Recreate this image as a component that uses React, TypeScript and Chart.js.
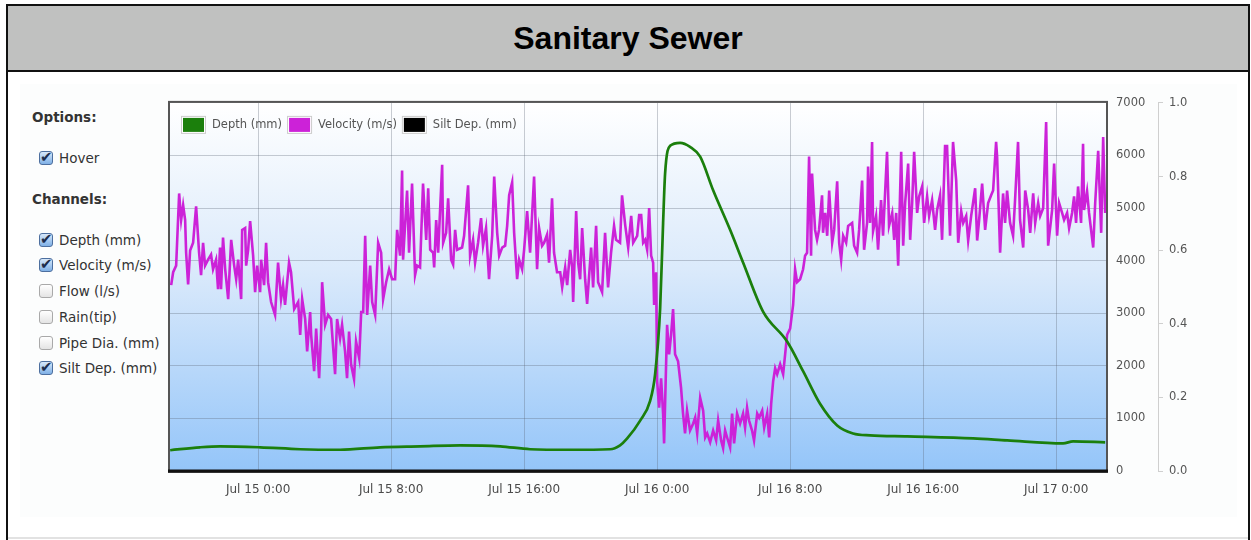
import React, { useEffect, useRef } from "react";
import { Chart, registerables } from "chart.js";

Chart.register(...registerables);

const TITLE = "Sanitary Sewer";
const OPTIONS_HEADING = "Options:";
const CHANNELS_HEADING = "Channels:";
const OPTION_LABELS = ["Hover"];
const OPTION_CHECKED = [true];
const CHANNEL_LABELS = ["Depth (mm)", "Velocity (m/s)", "Flow (l/s)", "Rain(tip)", "Pipe Dia. (mm)", "Silt Dep. (mm)"];
const CHANNEL_CHECKED = [true, true, false, false, false, true];

const SERIES_NAMES = ["Depth (mm)", "Velocity (m/s)", "Silt Dep. (mm)"];
const SERIES_COLORS = ["#1b7f0c", "#cc22d8", "#000000"];

// x values are hours relative to Jul 15 0:00
const X_MIN = -5.3;
const X_MAX = 51.0;
const X_TICK_HOURS = [0, 8, 16, 24, 32, 40, 48];
const X_TICK_LABELS = ["Jul 15 0:00", "Jul 15 8:00", "Jul 15 16:00", "Jul 16 0:00", "Jul 16 8:00", "Jul 16 16:00", "Jul 17 0:00"];

const DEPTH_TICKS_MAX = 7000;
const VEL_TICKS_MAX = 1.0;

const DEPTH_HOURS = [-5.29, -3.49, -2.29, 0.12, 2.53, 4.93, 7.34, 9.74, 12.15, 14.56, 16.36, 18.77, 21.17, 21.77, 22.2, 22.98, 23.58, 23.88, 24.18, 24.36, 24.48, 24.78, 25.38, 25.98, 26.59, 27.37, 28.39, 29.17, 30.38, 31.82, 32.78, 33.8, 34.83, 35.79, 36.81, 39.04, 43.01, 45.05, 48.42, 49.02, 50.95];
const DEPTH_MM = [395, 451, 470, 451, 414, 404, 451, 470, 489, 470, 414, 404, 414, 489, 620, 959, 1335, 1842, 3083, 4718, 5658, 6184, 6241, 6165, 5977, 5338, 4586, 3966, 3026, 2462, 1898, 1278, 865, 714, 677, 658, 620, 583, 526, 564, 545];

const VEL_HOURS = [
  -5.23, -5.11, -4.93, -4.75, -4.63, -4.51, -4.39, -4.33, -4.21, -4.09, -3.91, -3.73, -3.55, -3.43, -3.31, -3.19, -3.01, -2.83, -2.71, -2.53,
  -2.41, -2.29, -2.23, -2.11, -1.98, -1.8, -1.62, -1.44, -1.32, -1.2, -1.02, -0.96, -0.78, -0.72, -0.6, -0.48, -0.3, -0.18, -0.06, 0.12,
  0.18, 0.36, 0.48, 0.6, 0.78, 1.02, 1.2, 1.38, 1.5, 1.62, 1.86, 1.98, 2.17, 2.41, 2.53, 2.65, 2.83, 2.95, 3.13, 3.19,
  3.37, 3.49, 3.67, 3.79, 3.85, 4.03, 4.21, 4.39, 4.63, 4.75, 4.93, 5.05, 5.23, 5.35, 5.47, 5.59, 5.77, 5.89, 6.08, 6.2,
  6.32, 6.44, 6.56, 6.74, 6.86, 7.04, 7.22, 7.4, 7.52, 7.7, 7.88, 8.06, 8.24, 8.36, 8.54, 8.66, 8.72, 8.96, 9.08, 9.26,
  9.44, 9.56, 9.74, 9.92, 10.11, 10.23, 10.35, 10.53, 10.59, 10.71, 10.83, 11.07, 11.13, 11.31, 11.43, 11.61, 11.73, 11.85, 11.97, 12.27,
  12.39, 12.63, 12.75, 12.93, 13.05, 13.23, 13.41, 13.53, 13.71, 13.89, 14.08, 14.2, 14.38, 14.5, 14.68, 14.86, 14.98, 15.1, 15.28, 15.4,
  15.58, 15.7, 15.88, 16.0, 16.18, 16.36, 16.6, 16.78, 16.9, 17.08, 17.2, 17.38, 17.5, 17.68, 17.8, 17.98, 18.17, 18.29, 18.47, 18.59,
  18.77, 18.89, 18.95, 19.13, 19.25, 19.37, 19.49, 19.67, 19.79, 20.03, 20.15, 20.33, 20.45, 20.69, 20.87, 21.05, 21.23, 21.41, 21.53, 21.77,
  21.89, 22.08, 22.26, 22.44, 22.56, 22.8, 22.92, 23.04, 23.16, 23.28, 23.4, 23.52, 23.64, 23.76, 23.82, 23.94, 24.0, 24.12, 24.24, 24.36,
  24.42, 24.6, 24.72, 24.84, 24.96, 25.08, 25.26, 25.44, 25.56, 25.68, 25.8, 25.98, 26.17, 26.29, 26.41, 26.59, 26.77, 26.89, 27.01, 27.19,
  27.37, 27.55, 27.67, 27.85, 27.97, 28.09, 28.21, 28.39, 28.51, 28.63, 28.81, 28.99, 29.17, 29.29, 29.41, 29.53, 29.71, 29.83, 30.02, 30.14,
  30.32, 30.44, 30.62, 30.74, 30.86, 30.98, 31.1, 31.22, 31.4, 31.58, 31.7, 31.82, 32.0, 32.18, 32.3, 32.42, 32.6, 32.78, 32.9, 33.02,
  33.14, 33.26, 33.32, 33.5, 33.62, 33.74, 33.92, 33.98, 34.11, 34.23, 34.35, 34.53, 34.65, 34.83, 34.95, 35.07, 35.19, 35.37, 35.49, 35.73,
  35.85, 36.03, 36.15, 36.33, 36.45, 36.63, 36.69, 36.81, 36.93, 36.99, 37.17, 37.29, 37.47, 37.59, 37.83, 37.95, 38.14, 38.26, 38.38, 38.5,
  38.68, 38.8, 38.92, 39.1, 39.22, 39.34, 39.46, 39.64, 39.76, 39.94, 40.06, 40.24, 40.36, 40.54, 40.72, 40.84, 41.02, 41.14, 41.32, 41.44,
  41.62, 41.8, 41.99, 42.11, 42.29, 42.41, 42.59, 42.71, 42.89, 43.13, 43.25, 43.37, 43.55, 43.73, 43.91, 44.09, 44.21, 44.39, 44.45, 44.63,
  44.81, 44.93, 45.05, 45.23, 45.41, 45.53, 45.71, 45.83, 46.02, 46.14, 46.32, 46.44, 46.62, 46.74, 46.92, 47.04, 47.22, 47.4, 47.52, 47.76,
  47.88, 48.06, 48.18, 48.36, 48.48, 48.66, 48.78, 48.96, 49.08, 49.2, 49.32, 49.5, 49.62, 49.68, 49.86, 49.98, 50.23, 50.35, 50.53, 50.71,
  50.83, 50.95
];
const VEL_MS = [
  0.505, 0.54, 0.558, 0.754, 0.682, 0.722, 0.682, 0.593, 0.507, 0.599, 0.62, 0.719, 0.593, 0.532, 0.62, 0.558, 0.574, 0.588, 0.548, 0.574,
  0.494, 0.607, 0.494, 0.634, 0.548, 0.467, 0.628, 0.558, 0.521, 0.574, 0.467, 0.655, 0.66, 0.558, 0.601, 0.679, 0.585, 0.486, 0.558, 0.486,
  0.574, 0.505, 0.62, 0.513, 0.459, 0.424, 0.566, 0.467, 0.505, 0.451, 0.566, 0.54, 0.44, 0.459, 0.37, 0.467, 0.413, 0.325, 0.432, 0.37,
  0.271, 0.387, 0.252, 0.379, 0.513, 0.397, 0.424, 0.413, 0.263, 0.413, 0.36, 0.397, 0.325, 0.252, 0.379, 0.29, 0.25, 0.352, 0.306, 0.432,
  0.432, 0.639, 0.424, 0.558, 0.459, 0.424, 0.62, 0.593, 0.467, 0.513, 0.548, 0.521, 0.521, 0.655, 0.585, 0.816, 0.574, 0.762, 0.593, 0.781,
  0.532, 0.558, 0.553, 0.781, 0.628, 0.768, 0.601, 0.593, 0.553, 0.682, 0.593, 0.832, 0.62, 0.647, 0.741, 0.574, 0.561, 0.655, 0.601, 0.607,
  0.639, 0.776, 0.585, 0.628, 0.566, 0.62, 0.687, 0.612, 0.66, 0.521, 0.639, 0.8, 0.647, 0.585, 0.607, 0.612, 0.666, 0.749, 0.784, 0.647,
  0.521, 0.574, 0.548, 0.601, 0.706, 0.593, 0.8, 0.548, 0.66, 0.612, 0.62, 0.642, 0.566, 0.741, 0.593, 0.54, 0.54, 0.499, 0.553, 0.505,
  0.601, 0.553, 0.459, 0.706, 0.566, 0.521, 0.66, 0.521, 0.454, 0.607, 0.499, 0.666, 0.513, 0.486, 0.647, 0.499, 0.593, 0.666, 0.628, 0.62,
  0.749, 0.668, 0.607, 0.693, 0.62, 0.639, 0.695, 0.695, 0.62, 0.628, 0.601, 0.714, 0.585, 0.566, 0.451, 0.54, 0.244, 0.172, 0.252, 0.156,
  0.075, 0.397, 0.317, 0.37, 0.44, 0.317, 0.298, 0.226, 0.156, 0.102, 0.164, 0.11, 0.129, 0.145, 0.102, 0.199, 0.164, 0.091, 0.102, 0.078,
  0.11, 0.083, 0.137, 0.083, 0.062, 0.11, 0.091, 0.064, 0.156, 0.075, 0.156, 0.129, 0.156, 0.118, 0.172, 0.137, 0.11, 0.083, 0.156, 0.145,
  0.164, 0.118, 0.156, 0.091, 0.183, 0.244, 0.279, 0.263, 0.29, 0.263, 0.317, 0.37, 0.387, 0.451, 0.548, 0.513, 0.521, 0.548, 0.585, 0.593,
  0.854, 0.585, 0.808, 0.655, 0.628, 0.655, 0.749, 0.647, 0.701, 0.639, 0.762, 0.62, 0.655, 0.787, 0.62, 0.574, 0.639, 0.62, 0.666, 0.674,
  0.612, 0.593, 0.655, 0.789, 0.601, 0.674, 0.827, 0.674, 0.894, 0.652, 0.693, 0.601, 0.736, 0.639, 0.867, 0.666, 0.701, 0.628, 0.701, 0.558,
  0.867, 0.612, 0.728, 0.835, 0.628, 0.728, 0.867, 0.701, 0.746, 0.773, 0.674, 0.746, 0.693, 0.736, 0.655, 0.709, 0.749, 0.628, 0.883, 0.883,
  0.639, 0.894, 0.789, 0.62, 0.706, 0.674, 0.693, 0.626, 0.693, 0.768, 0.626, 0.682, 0.781, 0.655, 0.728, 0.749, 0.762, 0.894, 0.854, 0.593,
  0.754, 0.674, 0.762, 0.674, 0.639, 0.736, 0.894, 0.682, 0.607, 0.762, 0.709, 0.647, 0.754, 0.674, 0.728, 0.693, 0.714, 0.948, 0.612, 0.709,
  0.835, 0.639, 0.728, 0.701, 0.682, 0.701, 0.66, 0.701, 0.746, 0.674, 0.773, 0.674, 0.889, 0.709, 0.76, 0.701, 0.607, 0.728, 0.87, 0.647,
  0.907, 0.701
];
const SILT_HOURS: number[] = [];
const SILT_MM: number[] = [];

const FONT = "'DejaVu Sans', 'Noto Sans', sans-serif";

function Check({ checked }: { checked: boolean }) {
  return (
    <span
      style={{
        position: "absolute",
        left: 0,
        top: 2,
        width: 12,
        height: 12,
        borderRadius: 3,
        border: checked ? "1px solid #4d6f9f" : "1px solid #a9a9a9",
        background: checked
          ? "linear-gradient(#d7e8fa, #7fb0e6)"
          : "linear-gradient(#ffffff, #e4e4e4)",
        boxSizing: "content-box",
      }}
    >
      {checked ? (
        <span
          style={{
            position: "absolute",
            left: 0,
            top: -4,
            fontSize: 15,
            fontWeight: 700,
            color: "#1c2d4d",
            lineHeight: "18px",
            fontFamily: FONT,
          }}
        >
          ✔
        </span>
      ) : null}
    </span>
  );
}

export default function App() {
  const canvasRef = useRef<HTMLCanvasElement | null>(null);

  useEffect(() => {
    const canvas = canvasRef.current;
    if (!canvas) return;

    const bgPlugin = {
      id: "plotBackground",
      beforeDraw(chart: any) {
        const { ctx, chartArea: a } = chart;
        const g = ctx.createLinearGradient(0, a.top, 0, a.bottom);
        g.addColorStop(0, "#ffffff");
        g.addColorStop(0.45, "#dbeafb");
        g.addColorStop(1, "#94c5f9");
        ctx.save();
        ctx.fillStyle = g;
        ctx.fillRect(a.left, a.top, a.right - a.left, a.bottom - a.top);
        ctx.restore();
      },
    };

    const framePlugin = {
      id: "plotFrame",
      afterDatasetsDraw(chart: any) {
        const { ctx, chartArea: a } = chart;
        ctx.save();
        ctx.strokeStyle = "#555555";
        ctx.lineWidth = 2;
        ctx.strokeRect(a.left - 1, a.top - 1, a.right - a.left + 2, a.bottom - a.top + 2);
        ctx.strokeStyle = "#111111";
        ctx.lineWidth = 3;
        ctx.beginPath();
        ctx.moveTo(a.left - 2, a.bottom);
        ctx.lineTo(a.right + 2, a.bottom);
        ctx.stroke();

        // legend inside plot
        ctx.font = "11.5px " + FONT;
        ctx.textBaseline = "middle";
        ctx.textAlign = "left";
        let x = a.left + 13;
        const y = a.top + 15;
        chart.data.datasets.forEach((ds: any) => {
          const w = 21;
          const h = 14;
          ctx.fillStyle = "#ffffff";
          ctx.fillRect(x - 2, y - 2, w + 4, h + 4);
          ctx.strokeStyle = "#cccccc";
          ctx.lineWidth = 1;
          ctx.strokeRect(x - 1.5, y - 1.5, w + 3, h + 3);
          ctx.fillStyle = ds.borderColor;
          ctx.fillRect(x, y, w, h);
          ctx.fillStyle = "#545454";
          const tx = x + w + 8;
          ctx.fillText(ds.label, tx, y + h / 2 + 0.5);
          x = tx + ctx.measureText(ds.label).width + 7;
        });
        ctx.restore();
      },
    };

    const gridColor = "rgba(90,100,115,0.32)";

    const chart = new Chart(canvas, {
      type: "line",
      data: {
        datasets: [
          {
            label: SERIES_NAMES[0],
            data: DEPTH_HOURS.map((h, i) => ({ x: h, y: DEPTH_MM[i] })),
            borderColor: SERIES_COLORS[0],
            backgroundColor: SERIES_COLORS[0],
            borderWidth: 2.7,
            pointRadius: 0,
            cubicInterpolationMode: "monotone",
            yAxisID: "yDepth",
          },
          {
            label: SERIES_NAMES[1],
            data: VEL_HOURS.map((h, i) => ({ x: h, y: VEL_MS[i] })),
            borderColor: SERIES_COLORS[1],
            backgroundColor: SERIES_COLORS[1],
            borderWidth: 2.6,
            pointRadius: 0,
            tension: 0,
            yAxisID: "yVel",
          },
          {
            label: SERIES_NAMES[2],
            data: SILT_HOURS.map((h, i) => ({ x: h, y: SILT_MM[i] })),
            borderColor: SERIES_COLORS[2],
            backgroundColor: SERIES_COLORS[2],
            borderWidth: 2,
            pointRadius: 0,
            yAxisID: "yDepth",
          },
        ],
      },
      options: {
        animation: false,
        responsive: false,
        maintainAspectRatio: false,
        layout: { padding: { left: 10, top: 11, right: 0, bottom: 0 } },
        plugins: {
          legend: { display: false },
          tooltip: { enabled: false },
          title: { display: false },
        },
        scales: {
          x: {
            type: "linear",
            min: X_MIN,
            max: X_MAX,
            afterBuildTicks: (s: any) => {
              s.ticks = X_TICK_HOURS.map((v) => ({ value: v }));
            },
            afterFit: (s: any) => {
              s.height = 35;
            },
            grid: { color: gridColor, drawTicks: false, lineWidth: 1 },
            border: { display: false },
            ticks: {
              autoSkip: false,
              maxRotation: 0,
              padding: 12,
              color: "#4a4a4a",
              font: { family: FONT, size: 12 },
              callback: (_v: any, i: number) => X_TICK_LABELS[i],
            },
          },
          yDepth: {
            type: "linear",
            position: "right",
            min: 0,
            max: DEPTH_TICKS_MAX,
            afterFit: (s: any) => {
              s.width = 52;
            },
            grid: { color: gridColor, drawTicks: false, lineWidth: 1 },
            border: { display: false },
            ticks: {
              stepSize: 1000,
              padding: 10,
              color: "#555555",
              font: { family: FONT, size: 11.5 },
              callback: (v: any) => String(v),
            },
          },
          yVel: {
            type: "linear",
            position: "right",
            min: 0,
            max: VEL_TICKS_MAX,
            afterFit: (s: any) => {
              s.width = 42;
            },
            grid: { drawOnChartArea: false, drawTicks: true, tickLength: 5, color: "#cfcfcf" },
            border: { display: true, color: "#cfcfcf" },
            ticks: {
              stepSize: 0.2,
              padding: 6,
              color: "#555555",
              font: { family: FONT, size: 11.5 },
              callback: (v: any) => Number(v).toFixed(1),
            },
          },
        },
      } as any,
      plugins: [bgPlugin, framePlugin],
    });

    return () => chart.destroy();
  }, []);

  const textStyle: React.CSSProperties = {
    position: "absolute",
    fontFamily: FONT,
    fontSize: 13.5,
    color: "#333",
    lineHeight: "18px",
    whiteSpace: "nowrap",
  };

  const channelY = [240, 265, 291, 317, 343, 368];

  return (
    <div style={{ position: "absolute", left: 0, top: 0, width: 1251, height: 540, overflow: "hidden", background: "#ffffff" }}>
      {/* outer frame */}
      <div
        style={{
          position: "absolute",
          left: 6,
          top: 4,
          width: 1244,
          height: 600,
          border: "2px solid #111",
          boxSizing: "border-box",
        }}
      />
      {/* title bar */}
      <div
        style={{
          position: "absolute",
          left: 8,
          top: 6,
          width: 1240,
          height: 64,
          background: "#c0c1c0",
          borderBottom: "2px solid #111",
          display: "flex",
          alignItems: "center",
          justifyContent: "center",
          fontFamily: "'Liberation Sans', Arial, sans-serif",
          fontWeight: 700,
          fontSize: 32,
          color: "#000",
        }}
      >
        {TITLE}
      </div>
      {/* content panel */}
      <div style={{ position: "absolute", left: 20, top: 84, width: 1217, height: 433, background: "#fcfdfd" }} />
      <div style={{ position: "absolute", left: 8, top: 537, width: 1240, height: 2, background: "#e2e2e2" }} />

      {/* left options panel */}
      <div style={{ ...textStyle, left: 32, top: 108, fontWeight: 700 }}>{OPTIONS_HEADING}</div>
      {OPTION_LABELS.map((lab, i) => (
        <div key={lab} style={{ ...textStyle, left: 39, top: 149 + i * 26, paddingLeft: 20, height: 18 }}>
          <Check checked={OPTION_CHECKED[i]} />
          {lab}
        </div>
      ))}
      <div style={{ ...textStyle, left: 32, top: 190, fontWeight: 700 }}>{CHANNELS_HEADING}</div>
      {CHANNEL_LABELS.map((lab, i) => (
        <div key={lab} style={{ ...textStyle, left: 39, top: channelY[i] - 9, paddingLeft: 20, height: 18 }}>
          <Check checked={CHANNEL_CHECKED[i]} />
          {lab}
        </div>
      ))}

      <canvas
        ref={canvasRef}
        width={1040}
        height={420}
        style={{ position: "absolute", left: 160, top: 86, width: 1040, height: 420 }}
      />
    </div>
  );
}
